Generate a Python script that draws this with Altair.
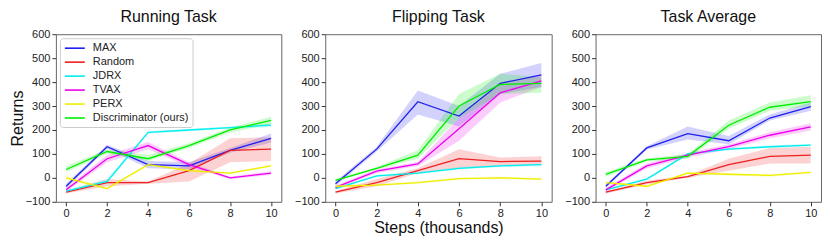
import altair as alt
import pandas as pd

steps = [0, 2, 4, 6, 8, 10]
methods = ["MAX", "Random", "JDRX", "TVAX", "PERX", "Discriminator (ours)"]
colors = ["#2020ee", "#ee2020", "#00eeee", "#ee00ee", "#eeee00", "#00ee00"]
panels = ["Running Task", "Flipping Task", "Task Average"]

# Running Task: mean, low, high per method
run_mean = {
    "MAX": [-35, 130, 55, 50, 115, 165],
    "Random": [-60, -20, -20, 30, 115, 120],
    "JDRX": [-55, -15, 190, 200, 210, 220],
    "TVAX": [-50, 80, 135, 55, 0, 20],
    "PERX": [0, -45, 55, 30, 20, 50],
    "Discriminator (ours)": [35, 110, 80, 135, 200, 240],
}
run_lo = {
    "MAX": [-45, 122, 40, 35, 105, 148],
    "Random": [-65, -35, -25, -15, 65, 70],
    "JDRX": [-60, -25, 185, 195, 205, 212],
    "TVAX": [-58, 65, 120, 45, -5, 12],
    "PERX": [-10, -50, 50, 25, 15, 45],
    "Discriminator (ours)": [25, 100, 70, 125, 190, 225],
}
run_hi = {
    "MAX": [-25, 138, 70, 65, 125, 185],
    "Random": [-55, -5, -15, 60, 165, 170],
    "JDRX": [-50, -5, 195, 205, 215, 228],
    "TVAX": [-42, 95, 150, 65, 5, 28],
    "PERX": [10, -40, 60, 35, 25, 55],
    "Discriminator (ours)": [50, 120, 95, 145, 210, 255],
}

# Flipping Task
flip_mean = {
    "MAX": [-25, 120, 318, 258, 395, 430],
    "Random": [-60, -20, 30, 80, 68, 70],
    "JDRX": [-45, 8, 20, 40, 50, 55],
    "TVAX": [-40, 28, 58, 205, 355, 405],
    "PERX": [-35, -30, -20, -3, 0, -5],
    "Discriminator (ours)": [-10, 40, 95, 300, 390, 395],
}
flip_lo = {
    "MAX": [-35, 110, 265, 215, 350, 380],
    "Random": [-65, -35, 20, 40, 50, 55],
    "JDRX": [-50, 3, 15, 35, 45, 50],
    "TVAX": [-48, 20, 50, 155, 315, 380],
    "PERX": [-40, -35, -25, -8, -5, -10],
    "Discriminator (ours)": [-15, 35, 80, 250, 350, 355],
}
flip_hi = {
    "MAX": [-15, 130, 365, 300, 435, 480],
    "Random": [-55, -5, 40, 120, 85, 90],
    "JDRX": [-40, 13, 25, 45, 55, 60],
    "TVAX": [-32, 36, 66, 250, 395, 430],
    "PERX": [-30, -25, -15, 2, 5, 0],
    "Discriminator (ours)": [-5, 45, 115, 350, 435, 420],
}

# Task Average
avg_mean = {
    "MAX": [-35, 125, 185, 155, 250, 298],
    "Random": [-60, -20, 5, 55, 90, 95],
    "JDRX": [-50, -5, 100, 120, 130, 137],
    "TVAX": [-50, 50, 95, 130, 178, 213],
    "PERX": [-20, -35, 20, 15, 10, 23],
    "Discriminator (ours)": [15, 75, 90, 220, 295, 318],
}
avg_lo = {
    "MAX": [-42, 118, 160, 140, 240, 280],
    "Random": [-65, -28, 0, 30, 60, 60],
    "JDRX": [-55, -10, 95, 115, 125, 132],
    "TVAX": [-58, 40, 85, 120, 165, 198],
    "PERX": [-25, -40, 15, 10, 5, 18],
    "Discriminator (ours)": [5, 68, 80, 205, 280, 300],
}
avg_hi = {
    "MAX": [-28, 132, 215, 175, 265, 315],
    "Random": [-55, -12, 10, 80, 125, 130],
    "JDRX": [-45, 0, 105, 125, 135, 142],
    "TVAX": [-42, 60, 105, 140, 191, 228],
    "PERX": [-15, -30, 25, 20, 15, 28],
    "Discriminator (ours)": [25, 82, 100, 240, 315, 345],
}

FONT = "Liberation Sans"


def frame(panel, mean, lo, hi):
    rows = []
    for m in methods:
        for i, s in enumerate(steps):
            rows.append({"panel": panel, "method": m, "step": s,
                         "mean": mean[m][i], "lo": lo[m][i], "hi": hi[m][i]})
    return pd.DataFrame(rows)


data = {
    "Running Task": frame("Running Task", run_mean, run_lo, run_hi),
    "Flipping Task": frame("Flipping Task", flip_mean, flip_lo, flip_hi),
    "Task Average": frame("Task Average", avg_mean, avg_lo, avg_hi),
}

color_scale = alt.Scale(domain=methods, range=colors)


def panel(name, width, show_legend, y_title, x_title):
    base = alt.Chart(data[name])
    x = alt.X("step:Q", scale=alt.Scale(domain=[-0.5, 10.5], nice=False, zero=False),
              axis=alt.Axis(values=steps, title=x_title))
    yaxis = alt.Axis(values=[-100, 0, 100, 200, 300, 400, 500, 600], title=y_title)
    if show_legend:
        leg = alt.Legend(title=None, orient="top-left", symbolType="M-1,0H3",
                         symbolSize=100, symbolStrokeWidth=1.6, symbolOpacity=1,
                         labelFont=FONT, labelFontSize=11, labelColor="#222",
                         rowPadding=3, fillColor="white", strokeColor="#ccc",
                         padding=4, cornerRadius=3, offset=4, labelOffset=17)
    else:
        leg = None
    band = base.mark_area(opacity=0.2).encode(
        x=x,
        y=alt.Y("lo:Q", scale=alt.Scale(domain=[-100, 600], nice=False), axis=yaxis),
        y2="hi:Q",
        color=alt.Color("method:N", scale=color_scale, legend=leg),
    )
    line = base.mark_line(strokeWidth=1.3).encode(
        x=x,
        y=alt.Y("mean:Q", scale=alt.Scale(domain=[-100, 600], nice=False), axis=yaxis),
        color=alt.Color("method:N", scale=color_scale, legend=leg),
    )
    return alt.layer(band, line).properties(
        width=width, height=168,
        title=alt.TitleParams(name, fontSize=16, font=FONT, fontWeight="normal",
                              color="#111", offset=3),
    )


p1 = panel("Running Task", 226, True, "Returns", None)
p2 = panel("Flipping Task", 227, False, None, "Steps (thousands)")
p3 = panel("Task Average", 226, False, None, None)

chart = alt.hconcat(p1, p2, p3, spacing=11).resolve_scale(color="independent").properties(
    padding={"left": 0, "top": 0, "right": 0, "bottom": 0}
).configure_view(
    stroke="#666", strokeWidth=1
).configure_axis(
    grid=False, domain=False, tickColor="#333", tickSize=4, labelPadding=2,
    labelFont=FONT, labelFontSize=11, labelColor="#222",
    titleFont=FONT, titleFontSize=16, titleFontWeight="normal", titleColor="#111",
).configure_axisY(titlePadding=0).configure_axisX(titlePadding=1)

chart.save("out.html", embed_options={"renderer": "svg", "actions": False})
